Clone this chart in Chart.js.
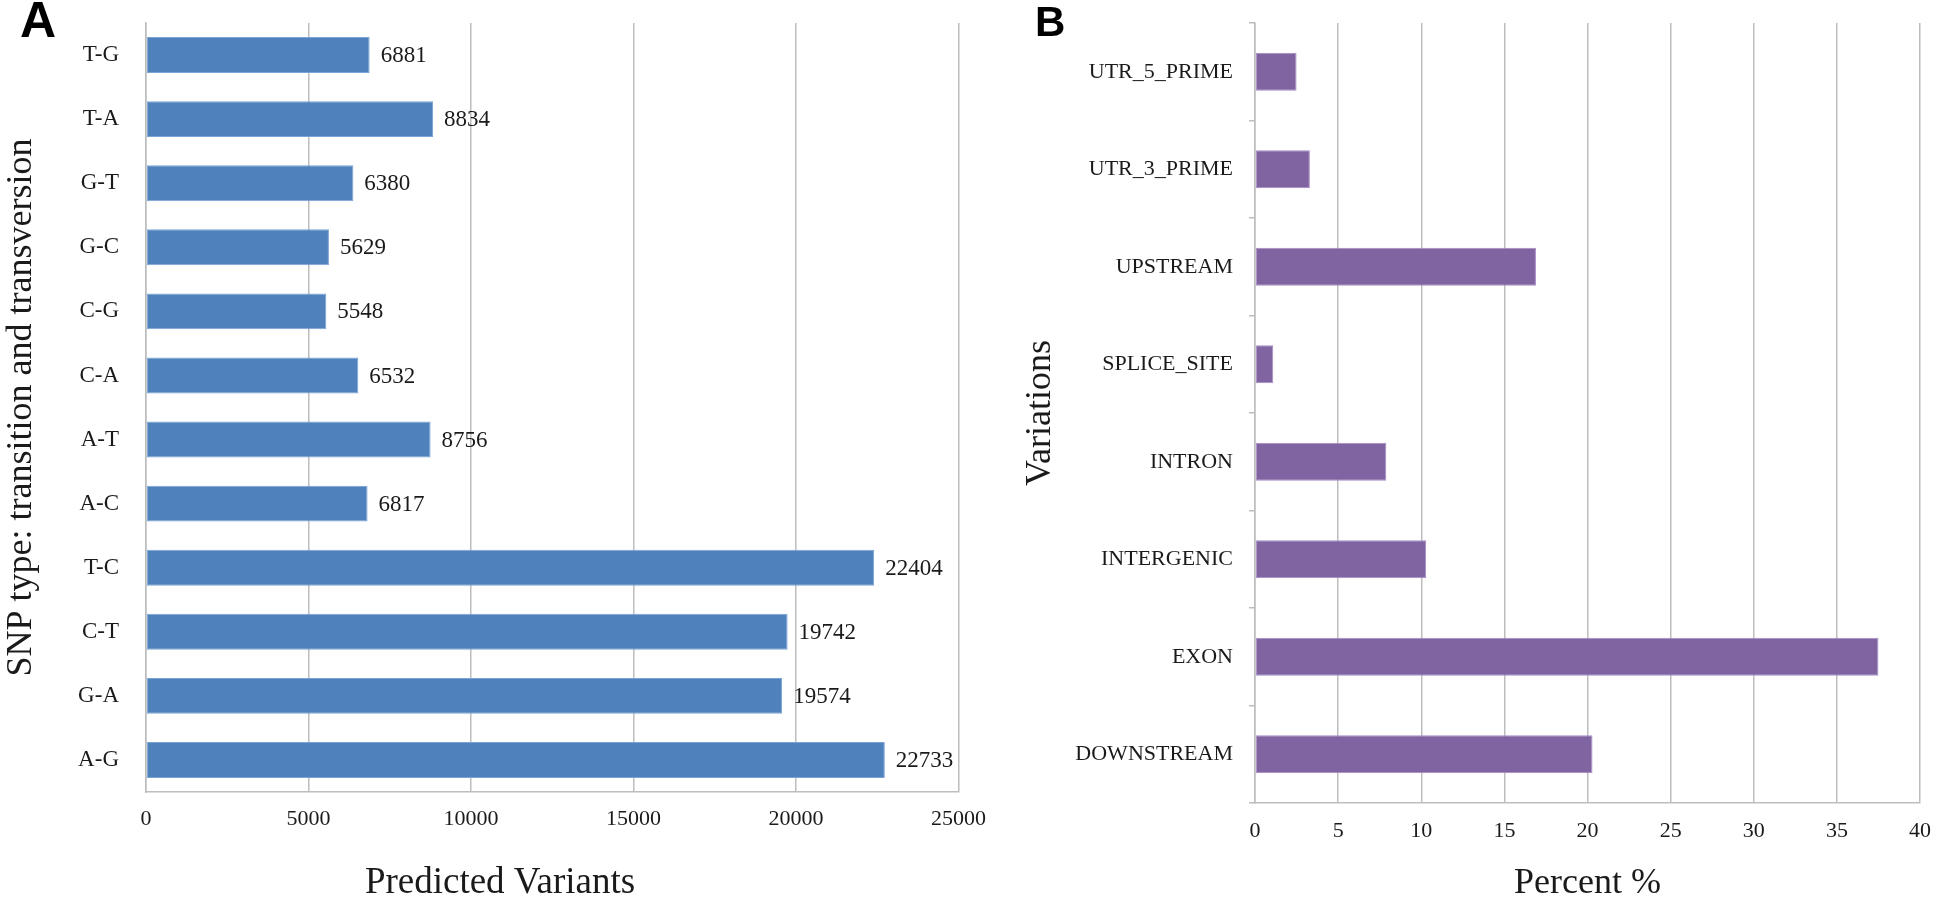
<!DOCTYPE html>
<html>
<head>
<meta charset="utf-8">
<script src="https://cdn.jsdelivr.net/npm/chart.js@4.4.0/dist/chart.umd.min.js"></script>
<style>
  html, body { margin: 0; padding: 0; background: #fff; }
  body { width: 1946px; height: 902px; position: relative; overflow: hidden; }
  canvas { position: absolute; top: 0; }
  #chartA { left: 0; }
  #chartB { left: 990px; }
  .panel { position: absolute; font-family: "Liberation Sans", Arial, sans-serif; font-weight: bold; color: #000; line-height: 1; }
</style>
</head>
<body>
<canvas id="chartA" width="1000" height="902"></canvas>
<canvas id="chartB" width="956" height="902"></canvas>
<div class="panel" style="left:20px;top:-5px;font-size:50px">A</div>
<div class="panel" style="left:1035px;top:1px;font-size:42px">B</div>
<script>
// panel A: SNP substitution types, listed top to bottom
const snpTypes = ['T-G', 'T-A', 'G-T', 'G-C', 'C-G', 'C-A', 'A-T', 'A-C', 'T-C', 'C-T', 'G-A', 'A-G']
const snpCounts = [6881, 8834, 6380, 5629, 5548, 6532, 8756, 6817, 22404, 19742, 19574, 22733]
const snpTicks = [0, 5000, 10000, 15000, 20000, 25000]

// panel B: variant location (percent), listed top to bottom
const regions = ['UTR_5_PRIME', 'UTR_3_PRIME', 'UPSTREAM', 'SPLICE_SITE', 'INTRON', 'INTERGENIC', 'EXON', 'DOWNSTREAM']
const regionPercent = [2.5, 3.3, 16.9, 1.1, 7.9, 10.3, 37.5, 20.3]
const percentTicks = [0, 5, 10, 15, 20, 25, 30, 35, 40]

const SERIF = '"Liberation Serif", "Times New Roman", serif'
const GRID = '#bdbdbd'
const TEXT = '#1a1a1a'

Chart.defaults.font.family = SERIF
Chart.defaults.color = TEXT

// fix the axis box sizes so the plot area lands where it should
const fixWidth = w => scale => { scale.width = w; scale.paddingTop = 0; scale.paddingBottom = 0 }
const fixHeight = h => scale => { scale.height = h }
const xTicksFrom = list => scale => { scale.ticks = list.map(v => ({ value: v })) }

// value labels to the right of each bar
const barValueLabels = {
    id: 'barValueLabels',
    afterDatasetsDraw(chart) {
        const ctx = chart.ctx
        const meta = chart.getDatasetMeta(0)
        ctx.save()
        ctx.font = '23px ' + SERIF
        ctx.fillStyle = TEXT
        ctx.textAlign = 'left'
        ctx.textBaseline = 'middle'
        meta.data.forEach((bar, i) => {
            ctx.fillText(String(chart.data.datasets[0].data[i]), bar.x + 11, bar.y + 1)
        })
        ctx.restore()
    }
}

// x title of panel A sits left of the plot centre, as in the original figure
const offsetXTitle = {
    id: 'offsetXTitle',
    afterDraw(chart, args, opts) {
        const ctx = chart.ctx
        ctx.save()
        ctx.font = '37px ' + SERIF
        ctx.fillStyle = TEXT
        ctx.textAlign = 'center'
        ctx.textBaseline = 'middle'
        ctx.fillText(opts.text, opts.x, opts.y)
        ctx.restore()
    }
}

new Chart(document.getElementById('chartA'), {
    type: 'bar',
    data: {
        labels: snpTypes,
        datasets: [{
            data: snpCounts,
            backgroundColor: '#4f81bd',
            borderColor: '#7aa3d6',
            borderWidth: 1,
            borderSkipped: false,
            barPercentage: 0.56,
            categoryPercentage: 1
        }]
    },
    options: {
        indexAxis: 'y',
        responsive: false,
        animation: false,
        layout: { padding: { top: 23, right: 40, bottom: 0, left: 0 } },
        plugins: {
            legend: { display: false },
            tooltip: { enabled: false },
            offsetXTitle: { text: 'Predicted Variants', x: 500, y: 883 }
        },
        scales: {
            x: {
                min: 0,
                max: 25000,
                afterBuildTicks: xTicksFrom(snpTicks),
                afterFit: fixHeight(110),
                grid: { color: GRID, lineWidth: 1.5, drawTicks: false },
                border: { color: GRID, width: 1.5 },
                ticks: { font: { size: 22 }, padding: 14, color: TEXT, callback: v => String(v) }
            },
            y: {
                afterFit: fixWidth(146),
                grid: { display: false },
                border: { color: GRID, width: 1.5 },
                ticks: { font: { size: 23 }, padding: 19, color: TEXT },
                title: {
                    display: true,
                    text: 'SNP type: transition and transversion',
                    font: { size: 36, lineHeight: 1 },
                    padding: { top: 4, bottom: 0 },
                    color: TEXT
                }
            }
        }
    },
    plugins: [barValueLabels, offsetXTitle]
})

new Chart(document.getElementById('chartB'), {
    type: 'bar',
    data: {
        labels: regions,
        datasets: [{
            data: regionPercent,
            backgroundColor: '#8064a2',
            borderColor: '#a58cc4',
            borderWidth: 1,
            borderSkipped: false,
            barPercentage: 0.39,
            categoryPercentage: 1
        }]
    },
    options: {
        indexAxis: 'y',
        responsive: false,
        animation: false,
        layout: { padding: { top: 23, right: 13, bottom: 0, left: 0 } },
        plugins: { legend: { display: false }, tooltip: { enabled: false } },
        scales: {
            x: {
                min: 0,
                max: 40,
                afterBuildTicks: xTicksFrom(percentTicks),
                afterFit: fixHeight(99),
                grid: { color: GRID, lineWidth: 1.5, drawTicks: false },
                border: { color: GRID, width: 1.5 },
                ticks: { font: { size: 22 }, padding: 15, color: TEXT, callback: v => String(v) },
                title: {
                    display: true,
                    text: 'Percent %',
                    font: { size: 36, lineHeight: 1 },
                    padding: { top: 0, bottom: 0 },
                    color: TEXT
                }
            },
            y: {
                afterFit: fixWidth(265),
                grid: {
                    drawOnChartArea: false,
                    drawTicks: true,
                    tickLength: 6,
                    color: GRID,
                    lineWidth: 1.5
                },
                border: { color: GRID, width: 1.5 },
                ticks: { font: { size: 22 }, padding: 16, color: TEXT },
                title: {
                    display: true,
                    text: 'Variations',
                    font: { size: 36, lineHeight: 1 },
                    padding: { top: 33, bottom: 0 },
                    color: TEXT
                }
            }
        }
    }
})
</script>
</body>
</html>
